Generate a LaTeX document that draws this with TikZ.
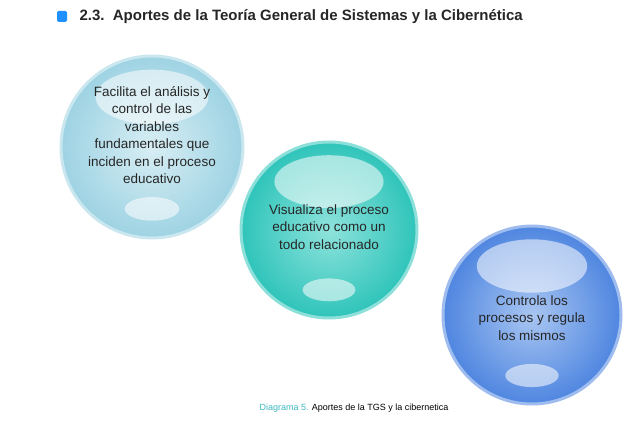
\documentclass[tikz,border=0pt]{standalone}
\usepackage{fontspec}
\setmainfont{Liberation Sans}
\begin{document}
\begin{tikzpicture}[x=1pt,y=-1pt]
\useasboundingbox (0,0) rectangle (640,422);
\definecolor{cA}{HTML}{9ED3E3}\definecolor{cAi}{HTML}{D8EEF4}
\definecolor{cB}{HTML}{2FC4BA}\definecolor{cBi}{HTML}{8EE3DC}
\definecolor{cC}{HTML}{4F86E0}\definecolor{cCi}{HTML}{A9C6F2}
\definecolor{blu}{HTML}{1E90FF}\definecolor{cap}{HTML}{3DB8C0}
\tikzset{ball/.style={circle,inner sep=0pt,draw=#1!55!white,line width=3pt,outer color=#1,inner color=#1i},
 hl/.style={fill=white,opacity=0.55},
 lab/.style={align=center,font=\fontsize{13.5}{17.5}\selectfont,text=black!85}}
\fill[blu,rounded corners=1.5pt] (57,11) rectangle (67,22);
\node[anchor=west,font=\bfseries\fontsize{15}{18}\selectfont,text=black!85] (title) at (76,17) {2.3.\ \ Aportes de la Teoría General de Sistemas y la Cibernética};
\node[ball=cA,minimum size=182] (c1) at (152,147) {};
\node[ball=cB,minimum size=176] (c2) at (329,230) {};
\node[ball=cC,minimum size=178] (c3) at (532,315) {};
\foreach \c/\r in {c1/91,c2/88,c3/89}{
 \fill[hl] ([yshift=0.55*\r]\c.center) ellipse ({0.62*\r} and {0.3*\r});
 \fill[hl] ([yshift=-0.68*\r]\c.center) ellipse ({0.3*\r} and {0.13*\r});}
\node[lab] (t1) at (152,135) {Facilita el análisis y\\control de las\\variables\\fundamentales que\\inciden en el proceso\\educativo};
\node[lab] (t2) at (329,227) {Visualiza el proceso\\educativo como un\\todo relacionado};
\node[lab] (t3) at (532,318) {Controla los\\procesos y regula\\los mismos};
\node[font=\fontsize{9}{11}\selectfont] (capt) at (354,408) {\textcolor{cap}{Diagrama 5.} Aportes de la TGS y la cibernetica};
\end{tikzpicture}
\end{document}
